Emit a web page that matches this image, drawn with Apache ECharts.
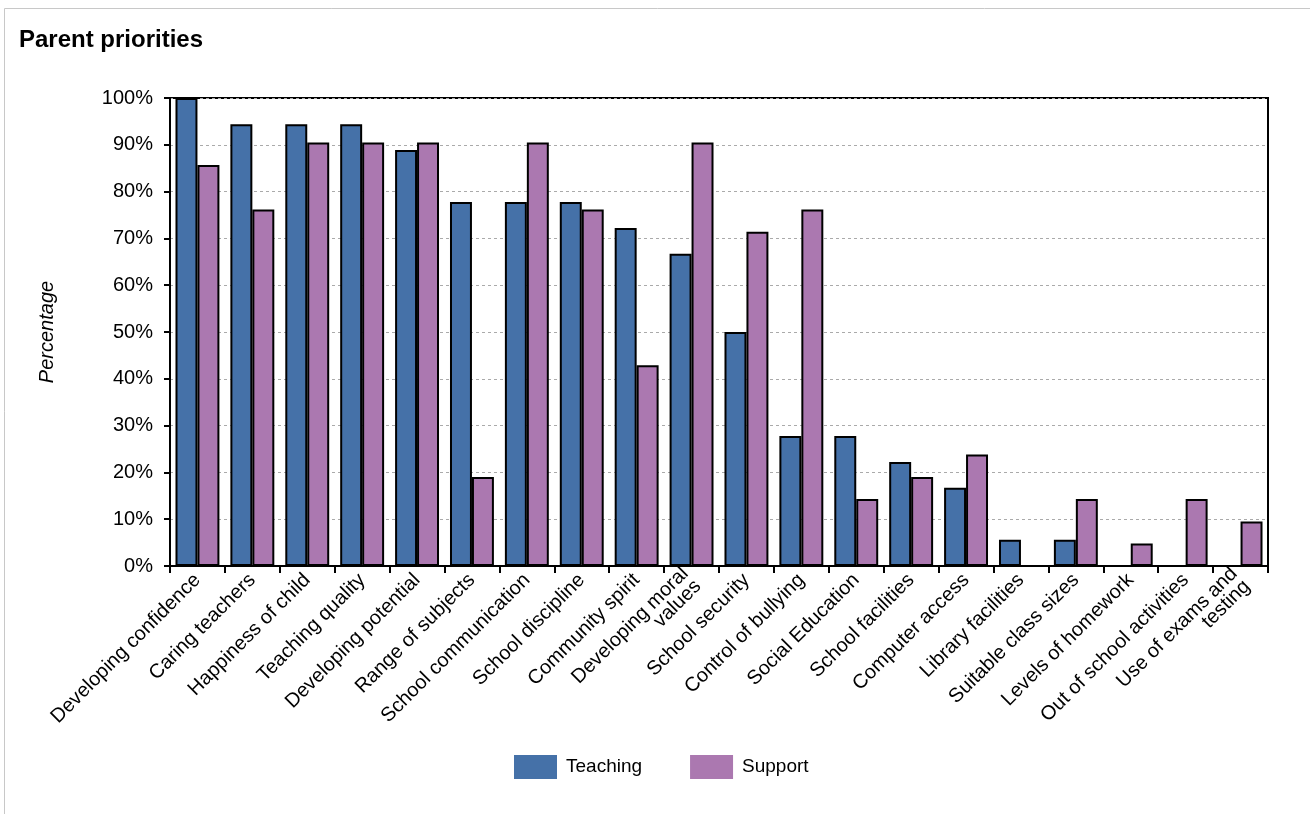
<!DOCTYPE html>
<html>
<head>
<meta charset="utf-8">
<script src="https://cdn.jsdelivr.net/npm/echarts@6/dist/echarts.min.js"></script>
<style>
  html, body { margin: 0; padding: 0; background: #fff; }
  #chart { width: 1310px; height: 814px; }
</style>
</head>
<body>
<div id="chart"></div>
<script>
var categories = [
  "Developing confidence", "Caring teachers", "Happiness of child", "Teaching quality",
  "Developing potential", "Range of subjects", "School communication", "School discipline",
  "Community spirit", "Developing moral\nvalues", "School security", "Control of bullying",
  "Social Education", "School facilities", "Computer access", "Library facilities",
  "Suitable class sizes", "Levels of homework", "Out of school activities", "Use of exams and\ntesting"
];
var teaching = [100, 94.4, 94.4, 94.4, 88.9, 77.8, 77.8, 77.8, 72.2, 66.7, 50, 27.8, 27.8, 22.2, 16.7, 5.6, 5.6, 0, 0, 0];
var support = [85.7, 76.2, 90.5, 90.5, 90.5, 19.0, 90.5, 76.2, 42.9, 90.5, 71.4, 76.2, 14.3, 19.0, 23.8, 0, 14.3, 4.8, 14.3, 9.5];
var yTicks = [0, 10, 20, 30, 40, 50, 60, 70, 80, 90, 100];

var font = "Liberation Sans, Arial, sans-serif";
var chart = echarts.init(document.getElementById("chart"));

var option = {
  animation: false,
  textStyle: { fontFamily: font },
  title: {
    text: "Parent priorities",
    left: 19,
    top: 28,
    padding: 0,
    textStyle: { fontSize: 24, fontWeight: "bold", color: "#000", fontFamily: font }
  },
  graphic: [
    {
      type: "rect",
      shape: { x: 4.5, y: 8.5, width: 1320, height: 820 },
      style: { fill: "none", stroke: "#c8c8c8", lineWidth: 1 },
      silent: true
    }
  ],
  legend: {
    left: 514,
    top: 755,
    padding: 0,
    itemWidth: 43,
    itemHeight: 24,
    itemGap: 48,
    icon: "rect",
    itemStyle: { borderWidth: 0 },
    textStyle: { fontSize: 19, color: "#000", fontFamily: font, padding: [0, 0, 0, 4] },
    data: ["Teaching", "Support"]
  },
  grid: {
    left: 170,
    right: 42,
    top: 98,
    bottom: 248,
    show: true,
    borderColor: "#000",
    borderWidth: 2
  },
  xAxis: {
    type: "category",
    data: categories,
    axisLine: { lineStyle: { color: "#000", width: 2 } },
    axisTick: { show: true, length: 7, lineStyle: { color: "#000", width: 2 } },
    axisLabel: {
      rotate: 45,
      interval: 0,
      margin: 11,
      fontSize: 20,
      color: "#000",
      fontFamily: font,
      lineHeight: 18
    },
    splitLine: { show: false }
  },
  yAxis: {
    type: "value",
    min: 0,
    max: 100,
    interval: 10,
    name: "Percentage",
    nameLocation: "middle",
    nameGap: 113,
    nameTextStyle: { fontSize: 20, fontStyle: "italic", color: "#000", fontFamily: font },
    axisLine: { show: true, lineStyle: { color: "#000", width: 2 } },
    axisTick: { show: true, length: 6, lineStyle: { color: "#000", width: 2 } },
    axisLabel: {
      margin: 17,
      fontSize: 20,
      color: "#000",
      fontFamily: font,
      formatter: function (v) {
        return yTicks.indexOf(v) >= 0 ? v + "%" : "";
      }
    },
    splitLine: { show: true, lineStyle: { color: "#aaa", width: 1, type: [3, 3] } }
  },
  series: [
    {
      name: "Teaching",
      type: "bar",
      data: teaching,
      barGap: "0%",
      barCategoryGap: "20%",
      itemStyle: { color: "#4571a8", borderColor: "#000", borderWidth: 2 }
    },
    {
      name: "Support",
      type: "bar",
      data: support,
      itemStyle: { color: "#ab78b0", borderColor: "#000", borderWidth: 2 }
    }
  ]
};

chart.setOption(option);
</script>
</body>
</html>
